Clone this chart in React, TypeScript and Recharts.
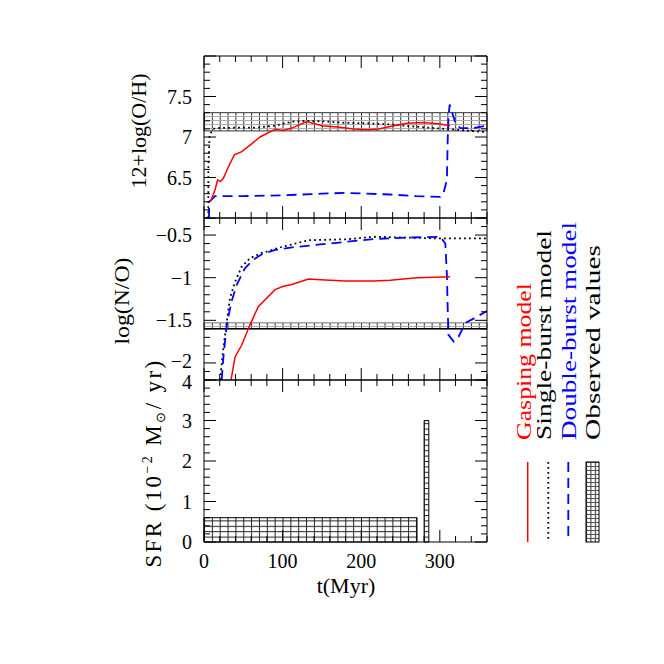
import React from 'react';
import { ComposedChart, Line, XAxis, YAxis, ReferenceArea, ReferenceLine } from 'recharts';

// ---------- axes / ticks ----------
const T_DOMAIN: [number, number] = [0, 360];
const OH_DOMAIN: [number, number] = [6, 8];
const NO_DOMAIN: [number, number] = [-2.2, -0.3];
const SFR_DOMAIN: [number, number] = [0, 4];

const tTickLabels = [0, 100, 200, 300];
const ohTickLabels = [6.5, 7, 7.5];
const ohMajor = [6, 6.5, 7, 7.5, 8];
const noTickLabels = [-2, -1.5, -1, -0.5];
const sfrTickLabels = [0, 1, 2, 3, 4];

// ---------- panel 1 : 12+log(O/H) ----------
const gaspOH_t = [8.5, 14, 17.4, 20.8, 24.6, 31, 38.6, 48, 58.6, 71.3, 90.4, 101, 111.7, 130.8, 150, 173, 190, 207, 222, 237, 258, 279, 300, 313];
const gaspOH_v = [6.21, 6.35, 6.47, 6.45, 6.49, 6.63, 6.78, 6.82, 6.9, 7.0, 7.095, 7.08, 7.11, 7.19, 7.14, 7.12, 7.1, 7.09, 7.1, 7.13, 7.17, 7.18, 7.16, 7.14];

const singleOH_t = [5.5, 5.5, 7, 10, 14, 40, 67, 90, 113, 131, 158, 180, 203, 237, 279, 313, 340, 360];
const singleOH_v = [6.0, 6.6, 7.0, 7.08, 7.11, 7.115, 7.115, 7.14, 7.19, 7.2, 7.19, 7.175, 7.17, 7.155, 7.12, 7.095, 7.075, 7.06];

const doubleOH_t = [6.4, 6.4, 9, 14, 50, 100, 150, 180, 237, 270, 300.6, 305, 309, 310, 311, 312.5, 316, 320, 326, 343, 360];
const doubleOH_v = [6.0, 6.2, 6.22, 6.27, 6.27, 6.28, 6.3, 6.31, 6.29, 6.27, 6.26, 6.32, 6.47, 6.96, 7.25, 7.4, 7.29, 7.17, 7.11, 7.11, 7.14];

const obsOH = [7.075, 7.3];

// ---------- panel 2 : log(N/O) ----------
const gaspNO_t = [34.4, 39.5, 48, 58.6, 69, 90.4, 101, 111.7, 133, 154, 180, 216, 237, 271, 313];
const gaspNO_v = [-2.2, -1.93, -1.79, -1.55, -1.34, -1.14, -1.1, -1.08, -1.015, -1.027, -1.04, -1.04, -1.03, -1.0, -0.99];

const singleNO_t = [20.4, 24.6, 28.9, 33, 39.5, 48, 58.6, 73.5, 99, 133, 180, 216, 258, 300, 360];
const singleNO_v = [-2.2, -1.83, -1.52, -1.24, -1.05, -0.87, -0.77, -0.71, -0.64, -0.56, -0.55, -0.52, -0.53, -0.54, -0.54];

const doubleNO_t = [22.5, 24.6, 29, 35, 41.6, 52, 62.8, 73.5, 90.4, 116, 180, 216, 258, 300.6, 307, 309, 310, 311, 317.6, 324, 332.5, 343, 360];
const doubleNO_v = [-2.2, -1.94, -1.55, -1.28, -1.085, -0.89, -0.79, -0.726, -0.675, -0.64, -0.58, -0.546, -0.53, -0.52, -0.6, -0.97, -1.36, -1.67, -1.75, -1.69, -1.53, -1.48, -1.39];

const obsNO = [-1.6, -1.53];

// ---------- panel 3 : SFR ----------
const burst1 = { t0: 0, t1: 271, sfr: 0.6 };
const burst2 = { t0: 280, t1: 286, sfr: 3 };

// ---------- helpers ----------
const zip = (xs: number[], ys: number[]) => xs.map((x, i) => ({ x, y: ys[i] }));
const range = (a: number, b: number, step: number) => {
  const out: number[] = [];
  const n = Math.round((b - a) / step);
  for (let i = 0; i <= n; i++) out.push(+(a + i * step).toFixed(4));
  return out;
};
const near = (v: number, arr: number[]) => arr.some((a) => Math.abs(a - v) < 1e-6);
const fmt = (v: number) => (v < 0 ? '\u2212' : '') + String(Math.abs(Math.round(v * 100) / 100));

const FONT = '"Liberation Serif", "Times New Roman", serif';
const RED = '#ff0000';
const BLUE = '#0000ff';

type Side = 'top' | 'bottom' | 'left' | 'right';

function tickRenderer(side: Side, majors: number[], labels: number[] | null, edgeShift?: { v: number; dy: number }) {
  return (props: any) => {
    const { x, y, payload } = props;
    const v = Number(payload.value);
    const len = near(v, majors) ? 12 : 6;
    const ln =
      side === 'bottom'
        ? { x1: x, x2: x, y1: y, y2: y - len }
        : side === 'top'
        ? { x1: x, x2: x, y1: y, y2: y + len }
        : side === 'left'
        ? { x1: x, x2: x + len, y1: y, y2: y }
        : { x1: x, x2: x - len, y1: y, y2: y };
    const show = labels !== null && near(v, labels);
    const extra = edgeShift && Math.abs(edgeShift.v - v) < 1e-6 ? edgeShift.dy : 0;
    return (
      <g>
        <line {...ln} stroke="#000" strokeWidth={1} />
        {show &&
          (side === 'bottom' ? (
            <text x={x} y={y + 26} textAnchor="middle" fontFamily={FONT} fontSize={20} fill="#000">
              {fmt(v)}
            </text>
          ) : (
            <text x={x - 12} y={y + 7 + extra} textAnchor="end" fontFamily={FONT} fontSize={20} fill="#000">
              {fmt(v)}
            </text>
          ))}
      </g>
    );
  };
}

const tTicks = range(0, 360, 20);

interface PanelProps {
  top: number;
  bottom: number;
  yDomain: [number, number];
  yTicks: number[];
  yMajors: number[];
  yLabels: number[];
  xLabels: boolean;
  edgeShift?: { v: number; dy: number };
  children: React.ReactNode;
}

function Panel({ top, bottom, yDomain, yTicks, yMajors, yLabels, xLabels, edgeShift, children }: PanelProps) {
  return (
    <div style={{ position: 'absolute', left: 0, top: 0 }}>
      <ComposedChart
        width={664}
        height={664}
        margin={{ top: top - 1, bottom: 664 - bottom - 1, left: 203, right: 664 - 487 - 1 }}
      >
        <XAxis
          xAxisId={0}
          dataKey="x"
          type="number"
          domain={T_DOMAIN}
          allowDataOverflow
          ticks={tTicks}
          interval={0}
          height={1}
          tickSize={0}
          tickMargin={0}
          tickLine={false}
          axisLine={{ stroke: '#000' }}
          tick={tickRenderer('bottom', tTickLabels, xLabels ? tTickLabels : null)}
        />
        <XAxis
          xAxisId="top"
          orientation="top"
          dataKey="x"
          type="number"
          domain={T_DOMAIN}
          allowDataOverflow
          ticks={tTicks}
          interval={0}
          height={1}
          tickSize={0}
          tickMargin={0}
          tickLine={false}
          axisLine={{ stroke: '#000' }}
          tick={tickRenderer('top', tTickLabels, null)}
        />
        <YAxis
          yAxisId={0}
          type="number"
          domain={yDomain}
          allowDataOverflow
          ticks={yTicks}
          interval={0}
          width={1}
          tickSize={0}
          tickMargin={0}
          tickLine={false}
          axisLine={{ stroke: '#000' }}
          tick={tickRenderer('left', yMajors, yLabels, edgeShift)}
        />
        <YAxis
          yAxisId="right"
          orientation="right"
          type="number"
          domain={yDomain}
          allowDataOverflow
          ticks={yTicks}
          interval={0}
          width={1}
          tickSize={0}
          tickMargin={0}
          tickLine={false}
          axisLine={{ stroke: '#000' }}
          tick={tickRenderer('right', yMajors, null)}
        />
        {children}
      </ComposedChart>
    </div>
  );
}

const lineCommon = { dataKey: 'y', dot: false, isAnimationActive: false, type: 'linear' as const, activeDot: false };

export default function App() {
  return (
    <div style={{ position: 'absolute', left: 0, top: 0, width: 664, height: 664, background: '#fff', overflow: 'hidden' }}>
      {/* Panel 1: O/H */}
      <Panel top={56} bottom={218} yDomain={OH_DOMAIN} yTicks={range(6, 8, 0.1)} yMajors={ohMajor} yLabels={ohTickLabels} xLabels={false}>
        <defs>
          <pattern id="hatchOH" patternUnits="userSpaceOnUse" x={204} y={56} width={7.85} height={4}>
            <line x1={0.5} x2={0.5} y1={0} y2={4} stroke="#333" strokeWidth={1} />
            <line x1={0} x2={7.85} y1={0.5} y2={0.5} stroke="#aaa" strokeWidth={1} />
          </pattern>
        </defs>
        <ReferenceArea x1={T_DOMAIN[0]} x2={T_DOMAIN[1]} y1={obsOH[0]} y2={obsOH[1]} fill="url(#hatchOH)" fillOpacity={1} stroke="#333" strokeWidth={1} />
        <Line {...lineCommon} data={zip(singleOH_t, singleOH_v)} stroke="#000" strokeWidth={1.8} strokeDasharray="1.8 3.2" />
        <Line {...lineCommon} data={zip(doubleOH_t, doubleOH_v)} stroke={BLUE} strokeWidth={1.8} strokeDasharray="10 6" />
        <Line {...lineCommon} data={zip(gaspOH_t, gaspOH_v)} stroke={RED} strokeWidth={1.5} />
      </Panel>

      {/* Panel 2: N/O */}
      <Panel top={218} bottom={380} yDomain={NO_DOMAIN} yTicks={range(-2.2, -0.3, 0.1)} yMajors={noTickLabels} yLabels={noTickLabels} xLabels={false} edgeShift={{ v: -2, dy: -2 }}>
        <defs>
          <pattern id="hatchNO" patternUnits="userSpaceOnUse" x={204} y={218} width={7.85} height={4}>
            <line x1={0.5} x2={0.5} y1={0} y2={4} stroke="#333" strokeWidth={1} />
            <line x1={0} x2={7.85} y1={0.5} y2={0.5} stroke="#aaa" strokeWidth={1} />
          </pattern>
        </defs>
        <ReferenceArea x1={T_DOMAIN[0]} x2={T_DOMAIN[1]} y1={obsNO[0]} y2={obsNO[1]} fill="url(#hatchNO)" fillOpacity={1} stroke="#777" strokeWidth={1} />
        <ReferenceLine y={obsNO[0]} stroke="#000" strokeWidth={1.5} />
        <Line {...lineCommon} data={zip(singleNO_t, singleNO_v)} stroke="#000" strokeWidth={1.8} strokeDasharray="1.8 3.2" />
        <Line {...lineCommon} data={zip(doubleNO_t, doubleNO_v)} stroke={BLUE} strokeWidth={1.8} strokeDasharray="10 6" />
        <Line {...lineCommon} data={zip(gaspNO_t, gaspNO_v)} stroke={RED} strokeWidth={1.5} />
      </Panel>

      {/* Panel 3: SFR */}
      <Panel top={380} bottom={542} yDomain={SFR_DOMAIN} yTicks={range(0, 4, 0.2)} yMajors={sfrTickLabels} yLabels={sfrTickLabels} xLabels={true} edgeShift={{ v: 4, dy: 2 }}>
        <defs>
          <pattern id="hatchSFR" patternUnits="userSpaceOnUse" x={204} y={380} width={7.85} height={5.4}>
            <line x1={0.5} x2={0.5} y1={0} y2={5.4} stroke="#222" strokeWidth={1} />
            <line x1={0} x2={7.85} y1={0.5} y2={0.5} stroke="#222" strokeWidth={1} />
          </pattern>
        </defs>
        <ReferenceArea x1={burst1.t0} x2={burst1.t1} y1={0} y2={burst1.sfr} fill="url(#hatchSFR)" fillOpacity={1} stroke="#000" strokeWidth={1} />
        <ReferenceArea x1={burst2.t0} x2={burst2.t1} y1={0} y2={burst2.sfr} fill="url(#hatchSFR)" fillOpacity={1} stroke="#000" strokeWidth={1} />
      </Panel>

      {/* Labels and legend */}
      <svg width={664} height={664} style={{ position: 'absolute', left: 0, top: 0, pointerEvents: 'none' }}>
        <defs>
          <pattern id="hatchLeg" patternUnits="userSpaceOnUse" x={586} y={462} width={4.4} height={4}>
            <line x1={0.5} x2={0.5} y1={0} y2={4} stroke="#222" strokeWidth={1} />
            <line x1={0} x2={4.4} y1={0.5} y2={0.5} stroke="#555" strokeWidth={1} />
          </pattern>
        </defs>
        <g fontFamily={FONT} fontSize={22} fill="#000">
          <text transform="translate(146,131) rotate(-90)" textAnchor="middle">12+log(O/H)</text>
          <text transform="translate(129,301) rotate(-90)" textAnchor="middle" textLength={87} lengthAdjust="spacingAndGlyphs">log(N/O)</text>
          <text transform="translate(161,463) rotate(-90)" textAnchor="middle" fontSize={23} letterSpacing={2.4}>
            SFR (10
            <tspan fontSize={14} dy={-9}>{'\u22122'}</tspan>
            <tspan dy={9}> M</tspan>
            <tspan fontSize={13} dy={4}>{'\u2299'}</tspan>
            <tspan dy={-4}>/ yr)</tspan>
          </text>
          <text x={346} y={593} textAnchor="middle">t(Myr)</text>
        </g>

        {/* legend */}
        <line x1={527.7} x2={527.7} y1={462} y2={542} stroke={RED} strokeWidth={1.5} />
        <line x1={548.3} x2={548.3} y1={462} y2={542} stroke="#000" strokeWidth={1.8} strokeDasharray="1.8 3.2" />
        <line x1={568.3} x2={568.3} y1={462} y2={542} stroke={BLUE} strokeWidth={1.8} strokeDasharray="10 6" />
        <rect x={586} y={462} width={13} height={80} fill="url(#hatchLeg)" stroke="#000" strokeWidth={1} />
        <g fontFamily={FONT} fontSize={22}>
          <text transform="translate(531,440) rotate(-90)" fill={RED} textLength={157} lengthAdjust="spacingAndGlyphs">Gasping model</text>
          <text transform="translate(551,440) rotate(-90)" fill="#000" textLength={210} lengthAdjust="spacingAndGlyphs">Single-burst model</text>
          <text transform="translate(576,440) rotate(-90)" fill={BLUE} textLength={218} lengthAdjust="spacingAndGlyphs">Double-burst model</text>
          <text transform="translate(600,440) rotate(-90)" fill="#000" textLength={195} lengthAdjust="spacingAndGlyphs">Observed values</text>
        </g>
      </svg>
    </div>
  );
}
